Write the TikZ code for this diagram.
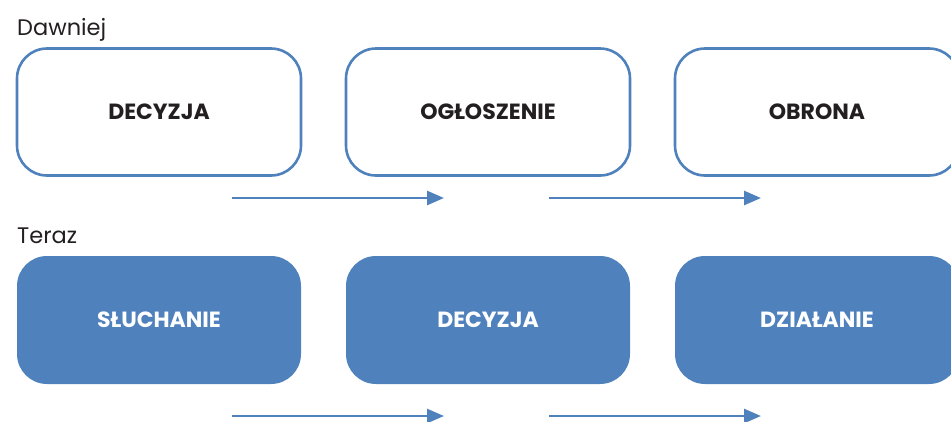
\documentclass[tikz,border=0pt]{standalone}
\usepackage{fontspec}
\setmainfont{Poppins}
\usetikzlibrary{arrows.meta}
\definecolor{stepblue}{HTML}{4F81BD}
\definecolor{steptext}{HTML}{231F20}
\begin{document}
\begin{tikzpicture}[
  x=1pt, y=-1pt,
  oldstep/.style={draw=stepblue, line width=2.6pt, fill=white, rounded corners=30pt,
    minimum width=284pt, minimum height=127pt, text=steptext,
    font=\fontsize{22}{26}\selectfont\bfseries},
  newstep/.style={fill=stepblue, rounded corners=30pt,
    minimum width=284pt, minimum height=128pt, text=white,
    font=\fontsize{22}{26}\selectfont\bfseries},
  rowlabel/.style={anchor=base west, inner sep=0pt, text=steptext,
    font=\fontsize{22.5}{26}\selectfont},
  flowarrow/.style={draw=stepblue, line width=2.6pt, -{Triangle[length=17pt,width=14pt]}},
]
  \useasboundingbox (0,0) rectangle (951,421);

  \node[rowlabel] (old) at (17, 35) {Dawniej};
  \node[oldstep] (d0) at (159, 112) {DECYZJA};
  \node[oldstep] (d1) at (488, 112) {OGŁOSZENIE};
  \node[oldstep] (d2) at (817, 112) {OBRONA};

  \coordinate (a0) at (232, 198);
  \coordinate (b0) at (444, 198);
  \coordinate (a1) at (549, 198);
  \coordinate (b1) at (761, 198);
  \draw[flowarrow] (a0) -- (b0);
  \draw[flowarrow] (a1) -- (b1);

  \node[rowlabel] (new) at (17, 243) {Teraz};
  \node[newstep] (t0) at (159, 320) {SŁUCHANIE};
  \node[newstep] (t1) at (488, 320) {DECYZJA};
  \node[newstep] (t2) at (817, 320) {DZIAŁANIE};

  \coordinate (c0) at (232, 416);
  \coordinate (e0) at (444, 416);
  \coordinate (c1) at (549, 416);
  \coordinate (e1) at (761, 416);
  \draw[flowarrow] (c0) -- (e0);
  \draw[flowarrow] (c1) -- (e1);
\end{tikzpicture}
\end{document}
